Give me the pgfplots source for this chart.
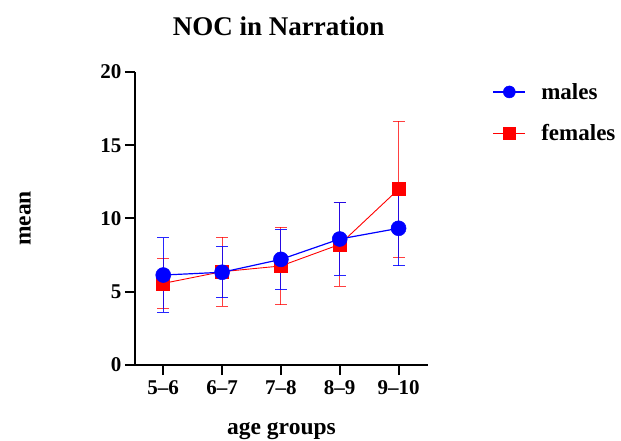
\documentclass[border=0pt]{standalone}
\usepackage{fontspec}
\setmainfont{Liberation Serif}
\usepackage{pgfplots}
\pgfplotsset{compat=1.18}

\begin{document}
\begin{tikzpicture}
  \path[use as bounding box] (-135pt,-76pt) rectangle (486pt,365pt);
  \begin{axis}[
    scale only axis, width=293pt, height=293pt,
    anchor=south west, at={(0pt,0pt)},
    xmin=-0.48, xmax=4.5, ymin=0, ymax=20,
    axis x line=bottom, axis y line=left,
    axis line style={-, line width=2pt},
    tick style={line width=2pt, black},
    tick align=outside, major tick length=10pt,
    xtick={0,1,2,3,4},
    xticklabels={5--6, 6--7, 7--8, 8--9, 9--10},
    ytick={0,5,10,15,20},
    /pgf/number format/assume math mode=true,
    ticklabel style={font=\fontsize{21}{24}\selectfont\bfseries},
    xticklabel style={yshift=-2pt},
    title={NOC in Narration},
    title style={font=\fontsize{27}{30}\selectfont\bfseries,
      at={(axis description cs:0.49,1.137)}, anchor=center},
    xlabel={age groups},
    xlabel style={font=\fontsize{23.5}{26}\selectfont\bfseries,
      at={(axis description cs:0.5,-0.225)}, anchor=center},
    ylabel={mean},
    ylabel style={font=\fontsize{23.5}{26}\selectfont\bfseries,
      at={(axis description cs:-0.375,0.5)}, anchor=center, rotate=0},
    legend style={draw=none, fill=none,
      at={(axis description cs:1.21,0.976)}, anchor=north west,
      font=\fontsize{23}{26}\selectfont\bfseries,
      row sep=20pt},
    reverse legend,
    legend cell align=left,
    legend image code/.code={%
      \path[draw=none, fill=none] (0pt,0pt) -- (46pt,0pt);
      \draw[mark repeat=2, mark phase=2, #1, mark size=6pt]
        plot coordinates {(0pt,0pt) (16pt,0pt) (32pt,0pt)};},
  ]
    % females
    \addplot[red, line width=0.9pt, mark=square*, mark size=6.5pt,
      mark options={solid, fill=red, line width=0.5pt},
      error bars/.cd, y dir=both, y explicit,
      error bar style={red, opacity=0.75, line width=1pt},
      error mark options={rotate=90, mark size=6pt, line width=1pt, red, opacity=0.75}]
      coordinates {
        (0,5.57)  +- (0,1.70)
        (1,6.37)  +- (0,2.35)
        (2,6.76)  +- (0,2.65)
        (3,8.23)  +- (0,2.85)
        (4,12.0)  +- (0,4.63)
      };
    \addlegendentry{females}
    % males
    \addplot[blue, line width=1.2pt, mark=*, mark size=7.5pt,
      mark options={solid, fill=blue, line width=0.5pt},
      error bars/.cd, y dir=both, y explicit,
      error bar style={blue, opacity=0.85, line width=1pt},
      error mark options={rotate=90, mark size=6pt, line width=1pt, blue, opacity=0.85}]
      coordinates {
        (0,6.14)  +- (0,2.55)
        (1,6.33)  +- (0,1.73)
        (2,7.21)  +- (0,2.03)
        (3,8.60)  +- (0,2.47)
        (4,9.33)  +- (0,2.56)
      };
    \addlegendentry{males}
  \end{axis}
\end{tikzpicture}
\end{document}
